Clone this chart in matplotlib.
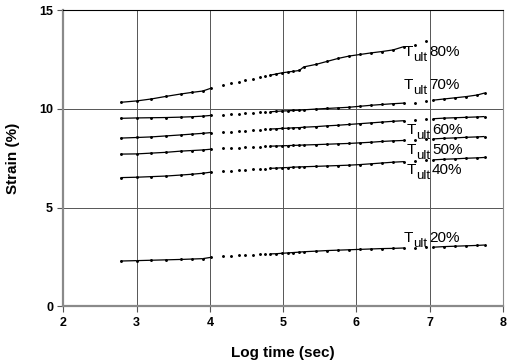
import numpy as np
import matplotlib
matplotlib.use("Agg")
import matplotlib.pyplot as plt
from matplotlib.collections import LineCollection

plt.rcParams['font.family'] = ['Liberation Sans', 'DejaVu Sans']

# reading schedule (log10 of seconds)
log_t = [2.78, 3.0, 3.2, 3.4, 3.6, 3.75, 3.9, 4.02,
         4.18, 4.29, 4.39, 4.48, 4.59, 4.68, 4.75,
         4.82, 4.9, 4.98, 5.06, 5.14, 5.22, 5.28,
         5.45, 5.6, 5.75, 5.9, 6.05, 6.2, 6.35, 6.5, 6.65,
         6.8, 6.95, 7.05, 7.2, 7.35, 7.5, 7.65, 7.75]

nan = np.nan
strain_80 = [10.33, 10.4, 10.5, 10.63, 10.75, 10.83, 10.9, 11.05,
             11.2, 11.3, 11.38, 11.45, 11.53, 11.6, 11.65,
             11.7, 11.76, 11.82, 11.86, 11.9, 11.94, 12.12,
             12.25, 12.4, 12.55, 12.67, 12.75, 12.83, 12.9, 12.98, 13.15,
             13.25, 13.45, nan, nan, nan, nan, nan, nan]
strain_70 = [9.52, 9.54, 9.55, 9.56, 9.58, 9.6, 9.63, 9.67,
             9.69, 9.72, 9.74, 9.77, 9.8, 9.82, 9.84,
             9.85, 9.87, 9.89, 9.9, 9.92, 9.93, 9.95,
             9.99, 10.02, 10.05, 10.08, 10.13, 10.18, 10.22, 10.26, 10.29,
             10.32, 10.4, 10.44, 10.5, 10.56, 10.62, 10.7, 10.8]
strain_60 = [8.52, 8.55, 8.58, 8.63, 8.68, 8.72, 8.76, 8.8,
             8.82, 8.85, 8.88, 8.9, 8.93, 8.95, 8.96,
             8.98, 8.99, 9.01, 9.02, 9.04, 9.05, 9.07,
             9.1, 9.14, 9.17, 9.21, 9.25, 9.29, 9.33, 9.37, 9.4,
             9.43, 9.47, 9.5, 9.53, 9.55, 9.57, 9.59, 9.61]
strain_50 = [7.71, 7.72, 7.76, 7.8, 7.86, 7.89, 7.92, 7.96,
             8.0, 8.02, 8.04, 8.06, 8.08, 8.09, 8.1,
             8.11, 8.12, 8.13, 8.14, 8.15, 8.16, 8.17,
             8.19, 8.21, 8.23, 8.25, 8.28, 8.31, 8.35, 8.38, 8.4,
             8.43, 8.46, 8.48, 8.51, 8.53, 8.56, 8.58, 8.6]
strain_40 = [6.52, 6.54, 6.57, 6.6, 6.65, 6.69, 6.74, 6.8,
             6.83, 6.86, 6.89, 6.91, 6.94, 6.96, 6.97,
             6.99, 7.0, 7.02, 7.03, 7.05, 7.06, 7.07,
             7.09, 7.11, 7.13, 7.15, 7.18, 7.22, 7.26, 7.3, 7.33,
             7.37, 7.4, 7.42, 7.45, 7.47, 7.5, 7.52, 7.54]
strain_20 = [2.3, 2.32, 2.34, 2.36, 2.38, 2.4, 2.42, 2.49,
             2.53, 2.56, 2.58, 2.6, 2.62, 2.64, 2.65,
             2.66, 2.67, 2.69, 2.71, 2.73, 2.75, 2.77,
             2.8, 2.83, 2.85, 2.87, 2.89, 2.91, 2.93, 2.94, 2.96,
             2.97, 2.99, 3.0, 3.03, 3.05, 3.07, 3.09, 3.11]

load_levels = ['80%', '70%', '60%', '50%', '40%', '20%']
series = [strain_80, strain_70, strain_60, strain_50, strain_40, strain_20]
# where each label sits (log time, strain at text baseline)
label_pos = [(6.64, 12.68), (6.64, 10.99), (6.68, 8.73),
             (6.68, 7.71), (6.68, 6.70), (6.64, 3.25)]

# stretches with sparse readings: only the dots are shown there
sparse = [(4.02, 4.82), (6.65, 7.05)]

fig = plt.figure(figsize=(5.10, 3.64), dpi=100)
ax = fig.add_axes([0.1245, 0.158, 0.8615, 0.8145])

t = np.array(log_t)
for vals in series:
    s = np.array(vals, dtype=float)
    segs = []
    for i in range(len(t) - 1):
        if np.isnan(s[i]) or np.isnan(s[i + 1]):
            continue
        if any(a <= t[i] and t[i + 1] <= b for a, b in sparse):
            continue
        segs.append([(t[i], s[i]), (t[i + 1], s[i + 1])])
    ax.add_collection(LineCollection(segs, colors='black', linewidths=0.9))
    ax.plot(t, s, ls='none', marker='o', ms=1.1, color='black')

# "T" with an "ult" subscript, then the load level
for lvl, (x, y) in zip(load_levels, label_pos):
    ax.annotate('T', (x, y), fontsize=11, va='baseline', ha='left')
    ax.annotate('ult', (x, y), xytext=(7.0, -3.6), textcoords='offset points',
                fontsize=9.5, va='baseline', ha='left')
    ax.annotate(lvl, (x, y), xytext=(18.5, 0), textcoords='offset points',
                fontsize=11, va='baseline', ha='left')

ax.set_xlim(2, 8)
ax.set_ylim(0, 15)
ax.set_xticks(range(2, 9))
ax.set_yticks([0, 5, 10, 15])
ax.grid(True, color='#555555', linewidth=0.7)
ax.set_axisbelow(True)
for side in ['left', 'bottom', 'right']:
    ax.spines[side].set_color('#8a8a8a')
ax.spines['left'].set_linewidth(1.6)
ax.spines['bottom'].set_linewidth(1.6)
ax.spines['right'].set_linewidth(0.8)
ax.spines['top'].set_color('black')
ax.spines['top'].set_linewidth(0.8)
ax.tick_params(axis='both', length=4, width=0.8, color='#555555', labelsize=9)
for lab in ax.get_xticklabels() + ax.get_yticklabels():
    lab.set_fontweight('bold')

ax.set_xlabel('Log time (sec)', fontsize=11, fontweight='bold', labelpad=12)
ax.set_ylabel('Strain (%)', fontsize=11, fontweight='bold', labelpad=14)

fig.savefig('out.png', dpi=100)
